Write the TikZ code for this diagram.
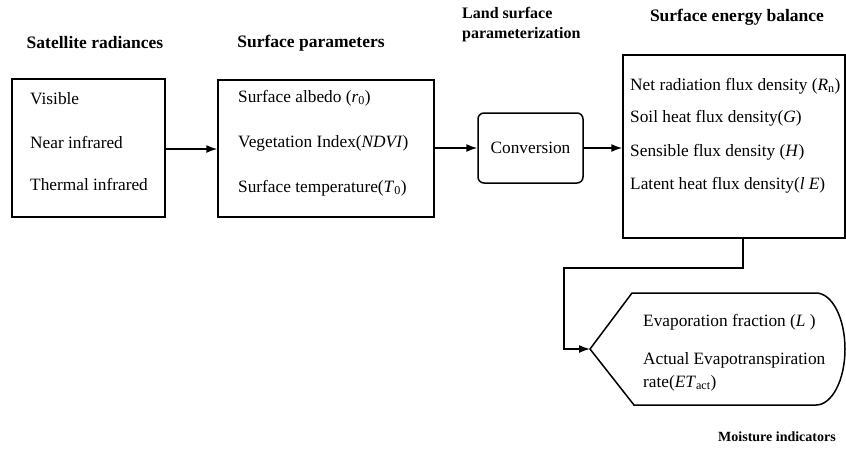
\documentclass[tikz,border=0pt]{standalone}
\usepackage{fontspec}
\setmainfont{Liberation Serif}
\usetikzlibrary{arrows.meta}

\begin{document}
\begin{tikzpicture}[x=1pt,y=-1pt,
    box/.style={draw,line width=1.5pt,inner sep=0pt},
    item/.style={anchor=west,inner sep=0pt,font=\fontsize{17.3}{21}\selectfont},
    head/.style={font=\fontsize{17.5}{20}\selectfont\bfseries,inner sep=0pt},
    link/.style={line width=1.5pt,-{Latex[length=11pt,width=8pt]}}]
  \useasboundingbox (0,0) rectangle (846,461);
  % Draw the boxes
  \node[box,minimum width=153pt,minimum height=138pt] (sat) at (88.5,148) {};
  \node[box,minimum width=216pt,minimum height=137pt] (par) at (326,148.5) {};
  \node[box,rounded corners=6pt,minimum width=105pt,minimum height=70pt,
    font=\fontsize{17.3}{21}\selectfont] (conv) at (530.5,148) {Conversion};
  \node[box,minimum width=222pt,minimum height=183pt] (seb) at (734,146.5) {};
  % Draw the headings
  \node[head] (hsat) at (95,43) {Satellite radiances};
  \node[head] (hpar) at (311,43) {Surface parameters};
  \node[head,font=\fontsize{16}{20}\selectfont\bfseries,anchor=north west,align=left]
    (hconv) at (462,7) {Land surface\\parameterization};
  \node[head] (hseb) at (737,17) {Surface energy balance};
  \node[head,font=\fontsize{14}{17}\selectfont\bfseries] (hmoi) at (777,437) {Moisture indicators};
  % Fill the boxes
  \foreach \t/\y [count=\i] in {Visible/99, Near infrared/142, Thermal infrared/184}{
    \node[item] (sat\i) at (30,\y) {\t};
  }
  \foreach \t/\y [count=\i] in {Surface albedo (\textit{r}\textsubscript{0})/98,
      Vegetation Index(\textit{NDVI})/143,
      Surface temperature(\textit{T}\textsubscript{0})/188}{
    \node[item] (par\i) at (238,\y) {\t};
  }
  \foreach \t/\y [count=\i] in {Net radiation flux density (\textit{R}\textsubscript{n})/86,
      Soil heat flux density(\textit{G})/118,
      Sensible flux density (\textit{H})/152,
      Latent heat flux density(\textit{l E})/185}{
    \node[item] (seb\i) at (630,\y) {\t};
  }
  % Draw the moisture shape
  \coordinate (tip) at (590,349);
  \draw[line width=1.5pt] (tip) -- (632,293) -- (816,293)
    arc[start angle=90,end angle=-90,x radius=29pt,y radius=56pt]
    -- (634,405) -- cycle;
  \node[item] (moi1) at (643,322) {Evaporation fraction (\textit{L} )};
  \node[item] (moi2) at (643,360) {Actual Evapotranspiration};
  \node[item] (moi3) at (643,383) {rate(\textit{ET}\textsubscript{act})};
  % Draw the links
  \draw[link] (sat.east |- 0,149) -- (par.west |- 0,149);
  \draw[link] (par.east |- conv.west) -- (conv.west);
  \draw[link] (conv.east) -- (seb.west |- conv.east);
  \coordinate (bend) at (564,268);
  \draw[link] ([xshift=9pt]seb.south) |- (bend) |- (tip);
\end{tikzpicture}
\end{document}
